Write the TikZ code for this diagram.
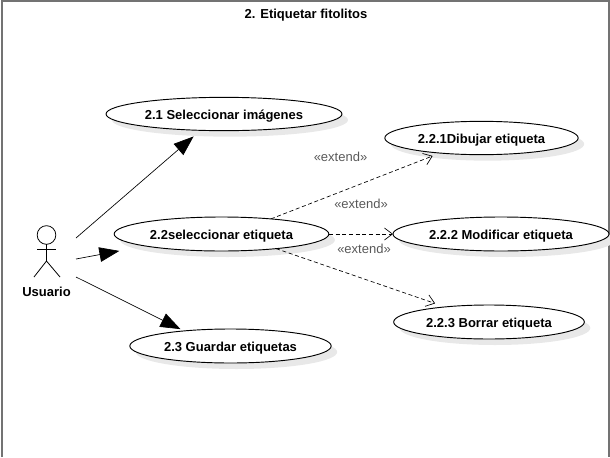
\documentclass[tikz,border=0pt]{standalone}
\usepackage{fontspec}
\setmainfont{Liberation Sans}
\usetikzlibrary{arrows.meta,shadows,shapes.geometric}
\tikzset{
  usecase/.style={ellipse,draw=black,fill=white,line width=0.7pt,inner sep=0pt,outer sep=0pt,
    font=\fontsize{9.75pt}{11pt}\selectfont\bfseries,text height=8pt,text depth=0pt,
    drop shadow={shadow xshift=4.5pt,shadow yshift=-4.5pt,fill=black!9,opacity=1}},
  boldlabel/.style={font=\fontsize{9.75pt}{11pt}\selectfont\bfseries,inner sep=0pt,text height=8pt,text depth=0pt},
  extendlabel/.style={font=\fontsize{9.75pt}{11pt}\selectfont,text=black!65,inner sep=0pt,text height=8pt,text depth=0pt},
  assoc/.style={-{Triangle[length=15pt,width=11pt]},line width=0.5pt},
  extendline/.style={densely dashed,-{Straight Barb[length=6pt,width=9pt]},line width=0.5pt}
}
\begin{document}
\begin{tikzpicture}[x=0.75pt,y=-0.75pt]
      \useasboundingbox (0,0) rectangle (610,457);
      \draw [black!55,line width=1.6pt] (2,457) -- (2,1) -- (609,1) -- (609,457);
      \node [boldlabel] (title) at (306,13) {2. Etiquetar fitolitos};
      % use cases
      \node [usecase,minimum width=177pt,minimum height=25pt] (selimg) at (224,114) {2.1 Seleccionar imágenes};
      \node [usecase,minimum width=161pt,minimum height=25.5pt] (seleti) at (221.5,234) {2.2seleccionar etiqueta};
      \node [usecase,minimum width=151pt,minimum height=25.5pt] (guaeti) at (230.5,346) {2.3 Guardar etiquetas};
      \node [usecase,minimum width=145pt,minimum height=25pt] (dibeti) at (481.5,138) {2.2.1Dibujar etiqueta};
      \node [usecase,minimum width=162pt,minimum height=25.5pt] (modeti) at (501,234) {2.2.2 Modificar etiqueta};
      \node [usecase,minimum width=143pt,minimum height=25.5pt] (boreti) at (489,322) {2.2.3 Borrar etiqueta};
      % actor
      \node [circle,draw,line width=0.6pt,minimum size=14pt,inner sep=0pt,outer sep=0pt] (usrhead) at (46.5,235) {};
      \coordinate (usrhip) at (46.5,261);
      \draw [line width=0.6pt] (usrhead.south) -- (usrhip);
      \draw [line width=0.6pt] (37,249) -- (56,249);
      \draw [line width=0.6pt] (34,277) -- (usrhip) -- (60,277);
      \node [boldlabel] (usr) at (46.5,291) {Usuario};
      \coordinate (usr1) at (76,238);
      \coordinate (usr2) at (76,259);
      \coordinate (usr3) at (76,277);
      \path
      (usr1) edge [assoc,shorten >=7pt] (selimg.215)
      (usr2) edge [assoc,shorten >=20pt] (seleti.south west)
      (usr3) edge [assoc,shorten >=3pt] (guaeti.162)
      (seleti.17) edge [extendline,shorten >=6pt] (dibeti.200)
      (seleti.east) edge [extendline] (modeti.west)
      (seleti.345) edge [extendline,shorten >=8pt] (boreti.161)
      ;
      \node [extendlabel] (ext1) at (340.5,156.5) {«extend»};
      \node [extendlabel] (ext2) at (361,203.5) {«extend»};
      \node [extendlabel] (ext3) at (364,248) {«extend»};
\end{tikzpicture}
\end{document}
